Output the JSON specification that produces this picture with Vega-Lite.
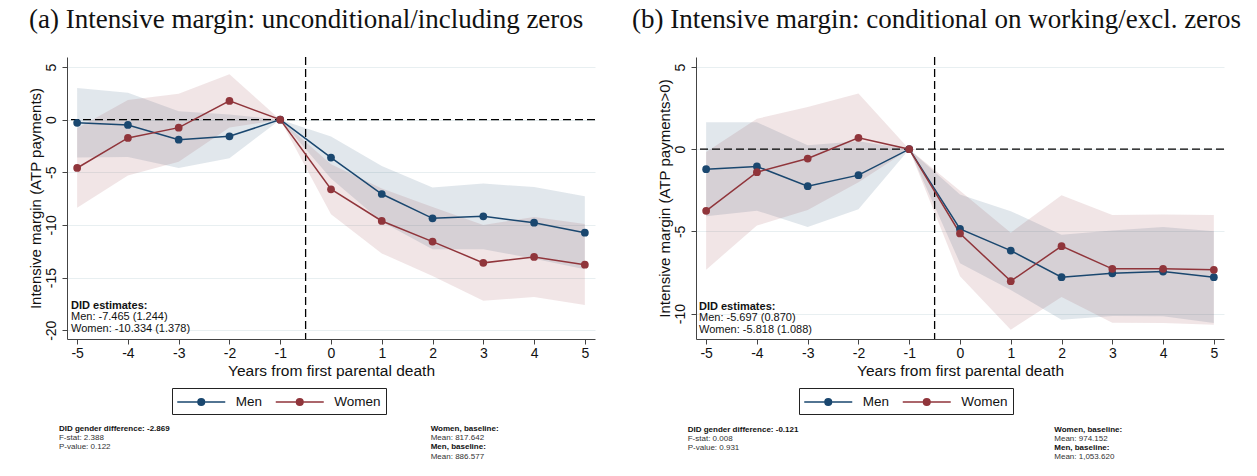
{
  "$schema": "https://vega.github.io/schema/vega-lite/v6.json",
  "autosize": {"type": "pad"},
  "padding": {"left": 27, "top": 6, "right": 0, "bottom": 0},
  "background": "white",
  "config": {
    "view": {"stroke": null},
    "font": "Liberation Sans"
  },
  "datasets": {
    "est": [
      {"panel": "a", "sex": "Men", "t": -5, "b": -0.30, "lo": -3.60, "hi": 3.00},
      {"panel": "a", "sex": "Men", "t": -4, "b": -0.50, "lo": -3.55, "hi": 2.55},
      {"panel": "a", "sex": "Men", "t": -3, "b": -1.90, "lo": -4.60, "hi": 0.80},
      {"panel": "a", "sex": "Men", "t": -2, "b": -1.58, "lo": -3.67, "hi": 0.50},
      {"panel": "a", "sex": "Men", "t": -1, "b": 0, "lo": 0, "hi": 0},
      {"panel": "a", "sex": "Men", "t": 0, "b": -3.60, "lo": -5.60, "hi": -1.60},
      {"panel": "a", "sex": "Men", "t": 1, "b": -7.06, "lo": -9.70, "hi": -4.40},
      {"panel": "a", "sex": "Men", "t": 2, "b": -9.37, "lo": -12.30, "hi": -6.45},
      {"panel": "a", "sex": "Men", "t": 3, "b": -9.18, "lo": -12.30, "hi": -6.07},
      {"panel": "a", "sex": "Men", "t": 4, "b": -9.78, "lo": -13.20, "hi": -6.40},
      {"panel": "a", "sex": "Men", "t": 5, "b": -10.73, "lo": -14.20, "hi": -7.28},
      {"panel": "a", "sex": "Women", "t": -5, "b": -4.59, "lo": -8.36, "hi": -0.82},
      {"panel": "a", "sex": "Women", "t": -4, "b": -1.74, "lo": -5.30, "hi": 1.86},
      {"panel": "a", "sex": "Women", "t": -3, "b": -0.76, "lo": -4.00, "hi": 2.47},
      {"panel": "a", "sex": "Women", "t": -2, "b": 1.78, "lo": -0.75, "hi": 4.31},
      {"panel": "a", "sex": "Women", "t": -1, "b": 0, "lo": 0, "hi": 0},
      {"panel": "a", "sex": "Women", "t": 0, "b": -6.61, "lo": -8.99, "hi": -4.23},
      {"panel": "a", "sex": "Women", "t": 1, "b": -9.62, "lo": -12.70, "hi": -6.54},
      {"panel": "a", "sex": "Women", "t": 2, "b": -11.58, "lo": -14.84, "hi": -8.30},
      {"panel": "a", "sex": "Women", "t": 3, "b": -13.60, "lo": -17.20, "hi": -10.00},
      {"panel": "a", "sex": "Women", "t": 4, "b": -13.04, "lo": -16.84, "hi": -9.24},
      {"panel": "a", "sex": "Women", "t": 5, "b": -13.77, "lo": -17.60, "hi": -9.90},
      {"panel": "b", "sex": "Men", "t": -5, "b": -1.22, "lo": -4.08, "hi": 1.64},
      {"panel": "b", "sex": "Men", "t": -4, "b": -1.05, "lo": -3.74, "hi": 1.64},
      {"panel": "b", "sex": "Men", "t": -3, "b": -2.25, "lo": -4.74, "hi": 0.24},
      {"panel": "b", "sex": "Men", "t": -2, "b": -1.58, "lo": -3.65, "hi": 0.49},
      {"panel": "b", "sex": "Men", "t": -1, "b": 0, "lo": 0, "hi": 0},
      {"panel": "b", "sex": "Men", "t": 0, "b": -4.85, "lo": -6.94, "hi": -2.76},
      {"panel": "b", "sex": "Men", "t": 1, "b": -6.17, "lo": -8.57, "hi": -3.77},
      {"panel": "b", "sex": "Men", "t": 2, "b": -7.79, "lo": -10.38, "hi": -5.20},
      {"panel": "b", "sex": "Men", "t": 3, "b": -7.55, "lo": -10.15, "hi": -4.95},
      {"panel": "b", "sex": "Men", "t": 4, "b": -7.45, "lo": -10.17, "hi": -4.73},
      {"panel": "b", "sex": "Men", "t": 5, "b": -7.79, "lo": -10.58, "hi": -5.00},
      {"panel": "b", "sex": "Women", "t": -5, "b": -3.75, "lo": -7.33, "hi": -0.17},
      {"panel": "b", "sex": "Women", "t": -4, "b": -1.40, "lo": -4.65, "hi": 1.85},
      {"panel": "b", "sex": "Women", "t": -3, "b": -0.57, "lo": -3.70, "hi": 2.56},
      {"panel": "b", "sex": "Women", "t": -2, "b": 0.69, "lo": -2.01, "hi": 3.39},
      {"panel": "b", "sex": "Women", "t": -1, "b": 0, "lo": 0, "hi": 0},
      {"panel": "b", "sex": "Women", "t": 0, "b": -5.13, "lo": -7.73, "hi": -2.53},
      {"panel": "b", "sex": "Women", "t": 1, "b": -8.03, "lo": -10.98, "hi": -5.08},
      {"panel": "b", "sex": "Women", "t": 2, "b": -5.90, "lo": -9.00, "hi": -2.80},
      {"panel": "b", "sex": "Women", "t": 3, "b": -7.28, "lo": -10.56, "hi": -4.00},
      {"panel": "b", "sex": "Women", "t": 4, "b": -7.28, "lo": -10.58, "hi": -3.98},
      {"panel": "b", "sex": "Women", "t": 5, "b": -7.34, "lo": -10.68, "hi": -4.00}
    ],
    "notes": [
      {"panel": "a", "block": "did", "line": 0, "text": ["DID estimates:"]},
      {"panel": "a", "block": "did", "line": 1, "text": ["Men: -7.465 (1.244)", "Women: -10.334 (1.378)"]},
      {"panel": "a", "block": "diff", "line": 0, "text": ["DID gender difference: -2.869"]},
      {"panel": "a", "block": "diff", "line": 1, "text": ["F-stat: 2.388", "P-value: 0.122"]},
      {"panel": "a", "block": "base", "line": 0, "text": ["Women, baseline:"]},
      {"panel": "a", "block": "base", "line": 1, "text": ["Mean: 817.642"]},
      {"panel": "a", "block": "base", "line": 2, "text": ["Men, baseline:"]},
      {"panel": "a", "block": "base", "line": 3, "text": ["Mean: 886.577"]},
      {"panel": "b", "block": "did", "line": 0, "text": ["DID estimates:"]},
      {"panel": "b", "block": "did", "line": 1, "text": ["Men: -5.697 (0.870)", "Women: -5.818 (1.088)"]},
      {"panel": "b", "block": "diff", "line": 0, "text": ["DID gender difference: -0.121"]},
      {"panel": "b", "block": "diff", "line": 1, "text": ["F-stat: 0.008", "P-value: 0.931"]},
      {"panel": "b", "block": "base", "line": 0, "text": ["Women, baseline:"]},
      {"panel": "b", "block": "base", "line": 1, "text": ["Mean: 974.152"]},
      {"panel": "b", "block": "base", "line": 2, "text": ["Men, baseline:"]},
      {"panel": "b", "block": "base", "line": 3, "text": ["Mean: 1,053.620"]}
    ]
  },
  "hconcat": [
    {
      "width": 528,
      "height": 282,
      "title": {
        "text": "(a) Intensive margin: unconditional/including zeros",
        "anchor": "start", "frame": "group", "dx": -38, "offset": 1,
        "baseline": "alphabetic",
        "font": "Liberation Serif", "fontSize": 27, "fontWeight": "normal", "color": "#111"
      },
      "layer": [
        {
          "data": {"name": "est"},
          "transform": [{"filter": "datum.panel === 'a'"}],
          "mark": {"type": "area", "opacity": 0.13},
          "encoding": {
            "x": {
              "field": "t", "type": "quantitative",
              "scale": {"domain": [-5.2, 5.2], "nice": false, "zero": false},
              "axis": {
                "values": [-5, -4, -3, -2, -1, 0, 1, 2, 3, 4, 5],
                "labelExpr": "'' + datum.value",
                "title": "Years from first parental death",
                "grid": false, "tickSize": 5, "labelPadding": 2, "titlePadding": 3,
                "labelFontSize": 14, "titleFontSize": 15.5, "titleFontWeight": "normal",
                "labelColor": "#111", "titleColor": "#111",
                "domainColor": "#444", "tickColor": "#444"
              }
            },
            "y": {
              "field": "lo", "type": "quantitative",
              "scale": {"domain": [-20.83, 5.95], "nice": false, "zero": false},
              "axis": {
                "values": [-20, -15, -10, -5, 0, 5],
                "labelExpr": "'' + datum.value",
                "labelAngle": 270, "labelAlign": "center", "labelBaseline": "bottom",
                "title": "Intensive margin (ATP payments)",
                "grid": true, "gridColor": "#e8eff1", "gridWidth": 1,
                "tickSize": 5, "labelPadding": 4, "titlePadding": 1,
                "labelFontSize": 14, "titleFontSize": 15, "titleFontWeight": "normal",
                "labelColor": "#111", "titleColor": "#111",
                "domainColor": "#444", "tickColor": "#444"
              }
            },
            "y2": {"field": "hi"},
            "fill": {
              "field": "sex", "type": "nominal",
              "scale": {"range": ["#1a476f", "#90353b"]},
              "legend": null
            }
          }
        },
        {
          "data": {"values": [{}]},
          "mark": {"type": "rule", "color": "#000", "strokeWidth": 1.3, "strokeDash": [8, 4]},
          "encoding": {"y": {"datum": 0}}
        },
        {
          "data": {"values": [{}]},
          "mark": {"type": "rule", "color": "#000", "strokeWidth": 1.3, "strokeDash": [8, 4]},
          "encoding": {"x": {"datum": -0.5}}
        },
        {
          "data": {"name": "est"},
          "transform": [{"filter": "datum.panel === 'a'"}],
          "mark": {"type": "line", "strokeWidth": 1.5},
          "encoding": {
            "x": {"field": "t", "type": "quantitative"},
            "y": {"field": "b", "type": "quantitative"},
            "color": {
              "field": "sex", "type": "nominal",
              "scale": {"domain": ["Men", "Women"], "range": ["#1a476f", "#90353b"]},
              "legend": {
                "orient": "none", "legendX": 105, "legendY": 331, "direction": "horizontal",
                "gridAlign": "none",
                "title": null, "strokeColor": "#222", "fillColor": "white", "padding": 5,
                "labelFontSize": 13.5, "labelColor": "#111",
                "symbolType": "M-3,0L3,0M-0.4125,0A0.4125,0.4125,0,1,0,0.4125,0A0.4125,0.4125,0,1,0,-0.4125,0ZM-0.225,0A0.225,0.225,0,1,0,0.225,0A0.225,0.225,0,1,0,-0.225,0ZM-0.06,0A0.06,0.06,0,1,0,0.06,0A0.06,0.06,0,1,0,-0.06,0Z",
                "symbolSize": 256, "symbolStrokeWidth": 1.5, "symbolOffset": 15.25,
                "labelOffset": 25.5, "columnPadding": 9.5
              }
            }
          }
        },
        {
          "data": {"name": "est"},
          "transform": [{"filter": "datum.panel === 'a'"}],
          "mark": {"type": "point", "filled": true, "size": 60, "opacity": 1},
          "encoding": {
            "x": {"field": "t", "type": "quantitative"},
            "y": {"field": "b", "type": "quantitative"},
            "color": {"field": "sex", "type": "nominal"}
          }
        },
        {
          "data": {"name": "notes"},
          "transform": [{"filter": "datum.panel === 'a' && datum.block === 'did' && datum.line === 0"}],
          "mark": {"type": "text", "align": "left", "baseline": "alphabetic", "fontSize": 11, "lineHeight": 11.5, "fontWeight": "bold", "color": "#111", "clip": false},
          "encoding": {"x": {"datum": -5.121}, "y": {"datum": -17.95}, "text": {"field": "text"}}
        },
        {
          "data": {"name": "notes"},
          "transform": [{"filter": "datum.panel === 'a' && datum.block === 'did' && datum.line === 1"}],
          "mark": {"type": "text", "align": "left", "baseline": "alphabetic", "fontSize": 11, "lineHeight": 11.5, "color": "#111", "clip": false},
          "encoding": {"x": {"datum": -5.121}, "y": {"datum": -19.042}, "text": {"field": "text"}}
        },
        {
          "data": {"name": "notes"},
          "transform": [{"filter": "datum.panel === 'a' && datum.block === 'diff' && datum.line === 0"}],
          "mark": {"type": "text", "align": "left", "baseline": "alphabetic", "fontSize": 8, "fontWeight": "bold", "color": "#111", "clip": false},
          "encoding": {"x": {"datum": -5.358}, "y": {"datum": -29.59}, "text": {"field": "text"}}
        },
        {
          "data": {"name": "notes"},
          "transform": [{"filter": "datum.panel === 'a' && datum.block === 'diff' && datum.line === 1"}],
          "mark": {"type": "text", "align": "left", "baseline": "alphabetic", "fontSize": 8, "lineHeight": 9.1, "color": "#333", "clip": false},
          "encoding": {"x": {"datum": -5.358}, "y": {"datum": -30.454}, "text": {"field": "text"}}
        },
        {
          "data": {"name": "notes"},
          "transform": [{"filter": "datum.panel === 'a' && datum.block === 'base' && datum.line === 0"}],
          "mark": {"type": "text", "align": "left", "baseline": "alphabetic", "fontSize": 8, "fontWeight": "bold", "color": "#111", "clip": false},
          "encoding": {"x": {"datum": 1.964}, "y": {"datum": -29.59}, "text": {"field": "text"}}
        },
        {
          "data": {"name": "notes"},
          "transform": [{"filter": "datum.panel === 'a' && datum.block === 'base' && datum.line === 1"}],
          "mark": {"type": "text", "align": "left", "baseline": "alphabetic", "fontSize": 8, "color": "#333", "clip": false},
          "encoding": {"x": {"datum": 1.964}, "y": {"datum": -30.454}, "text": {"field": "text"}}
        },
        {
          "data": {"name": "notes"},
          "transform": [{"filter": "datum.panel === 'a' && datum.block === 'base' && datum.line === 2"}],
          "mark": {"type": "text", "align": "left", "baseline": "alphabetic", "fontSize": 8, "fontWeight": "bold", "color": "#111", "clip": false},
          "encoding": {"x": {"datum": 1.964}, "y": {"datum": -31.318}, "text": {"field": "text"}}
        },
        {
          "data": {"name": "notes"},
          "transform": [{"filter": "datum.panel === 'a' && datum.block === 'base' && datum.line === 3"}],
          "mark": {"type": "text", "align": "left", "baseline": "alphabetic", "fontSize": 8, "color": "#333", "clip": false},
          "encoding": {"x": {"datum": 1.964}, "y": {"datum": -32.182}, "text": {"field": "text"}}
        }
      ]
    },
    {
      "width": 528,
      "height": 282,
      "title": {
        "text": "(b) Intensive margin: conditional on working/excl. zeros",
        "anchor": "start", "frame": "group", "dx": -64, "offset": 1,
        "baseline": "alphabetic",
        "font": "Liberation Serif", "fontSize": 27, "fontWeight": "normal", "color": "#111"
      },
      "layer": [
        {
          "data": {"name": "est"},
          "transform": [{"filter": "datum.panel === 'b'"}],
          "mark": {"type": "area", "opacity": 0.13},
          "encoding": {
            "x": {
              "field": "t", "type": "quantitative",
              "scale": {"domain": [-5.2, 5.2], "nice": false, "zero": false},
              "axis": {
                "values": [-5, -4, -3, -2, -1, 0, 1, 2, 3, 4, 5],
                "labelExpr": "'' + datum.value",
                "title": "Years from first parental death",
                "grid": false, "tickSize": 5, "labelPadding": 2, "titlePadding": 3,
                "labelFontSize": 14, "titleFontSize": 15.5, "titleFontWeight": "normal",
                "labelColor": "#111", "titleColor": "#111",
                "domainColor": "#444", "tickColor": "#444"
              }
            },
            "y": {
              "field": "lo", "type": "quantitative",
              "scale": {"domain": [-11.55, 5.61], "nice": false, "zero": false},
              "axis": {
                "values": [-10, -5, 0, 5],
                "labelExpr": "'' + datum.value",
                "labelAngle": 270, "labelAlign": "center", "labelBaseline": "bottom",
                "title": "Intensive margin (ATP payments>0)",
                "grid": true, "gridColor": "#e8eff1", "gridWidth": 1,
                "tickSize": 5, "labelPadding": 4, "titlePadding": 1,
                "labelFontSize": 14, "titleFontSize": 15, "titleFontWeight": "normal",
                "labelColor": "#111", "titleColor": "#111",
                "domainColor": "#444", "tickColor": "#444"
              }
            },
            "y2": {"field": "hi"},
            "fill": {
              "field": "sex", "type": "nominal",
              "scale": {"range": ["#1a476f", "#90353b"]},
              "legend": null
            }
          }
        },
        {
          "data": {"values": [{}]},
          "mark": {"type": "rule", "color": "#000", "strokeWidth": 1.3, "strokeDash": [8, 4]},
          "encoding": {"y": {"datum": 0}}
        },
        {
          "data": {"values": [{}]},
          "mark": {"type": "rule", "color": "#000", "strokeWidth": 1.3, "strokeDash": [8, 4]},
          "encoding": {"x": {"datum": -0.5}}
        },
        {
          "data": {"name": "est"},
          "transform": [{"filter": "datum.panel === 'b'"}],
          "mark": {"type": "line", "strokeWidth": 1.5},
          "encoding": {
            "x": {"field": "t", "type": "quantitative"},
            "y": {"field": "b", "type": "quantitative"},
            "color": {
              "field": "sex", "type": "nominal",
              "scale": {"domain": ["Men", "Women"], "range": ["#1a476f", "#90353b"]},
              "legend": {
                "orient": "none", "legendX": 103, "legendY": 331, "direction": "horizontal",
                "gridAlign": "none",
                "title": null, "strokeColor": "#222", "fillColor": "white", "padding": 5,
                "labelFontSize": 13.5, "labelColor": "#111",
                "symbolType": "M-3,0L3,0M-0.4125,0A0.4125,0.4125,0,1,0,0.4125,0A0.4125,0.4125,0,1,0,-0.4125,0ZM-0.225,0A0.225,0.225,0,1,0,0.225,0A0.225,0.225,0,1,0,-0.225,0ZM-0.06,0A0.06,0.06,0,1,0,0.06,0A0.06,0.06,0,1,0,-0.06,0Z",
                "symbolSize": 256, "symbolStrokeWidth": 1.5, "symbolOffset": 15.25,
                "labelOffset": 25.5, "columnPadding": 9.5
              }
            }
          }
        },
        {
          "data": {"name": "est"},
          "transform": [{"filter": "datum.panel === 'b'"}],
          "mark": {"type": "point", "filled": true, "size": 60, "opacity": 1},
          "encoding": {
            "x": {"field": "t", "type": "quantitative"},
            "y": {"field": "b", "type": "quantitative"},
            "color": {"field": "sex", "type": "nominal"}
          }
        },
        {
          "data": {"name": "notes"},
          "transform": [{"filter": "datum.panel === 'b' && datum.block === 'did' && datum.line === 0"}],
          "mark": {"type": "text", "align": "left", "baseline": "alphabetic", "fontSize": 11, "lineHeight": 11.8, "fontWeight": "bold", "color": "#111", "clip": false},
          "encoding": {"x": {"datum": -5.141}, "y": {"datum": -9.757}, "text": {"field": "text"}}
        },
        {
          "data": {"name": "notes"},
          "transform": [{"filter": "datum.panel === 'b' && datum.block === 'did' && datum.line === 1"}],
          "mark": {"type": "text", "align": "left", "baseline": "alphabetic", "fontSize": 11, "lineHeight": 11.8, "color": "#111", "clip": false},
          "encoding": {"x": {"datum": -5.141}, "y": {"datum": -10.475}, "text": {"field": "text"}}
        },
        {
          "data": {"name": "notes"},
          "transform": [{"filter": "datum.panel === 'b' && datum.block === 'diff' && datum.line === 0"}],
          "mark": {"type": "text", "align": "left", "baseline": "alphabetic", "fontSize": 8, "fontWeight": "bold", "color": "#111", "clip": false},
          "encoding": {"x": {"datum": -5.363}, "y": {"datum": -17.18}, "text": {"field": "text"}}
        },
        {
          "data": {"name": "notes"},
          "transform": [{"filter": "datum.panel === 'b' && datum.block === 'diff' && datum.line === 1"}],
          "mark": {"type": "text", "align": "left", "baseline": "alphabetic", "fontSize": 8, "lineHeight": 9.1, "color": "#333", "clip": false},
          "encoding": {"x": {"datum": -5.363}, "y": {"datum": -17.734}, "text": {"field": "text"}}
        },
        {
          "data": {"name": "notes"},
          "transform": [{"filter": "datum.panel === 'b' && datum.block === 'base' && datum.line === 0"}],
          "mark": {"type": "text", "align": "left", "baseline": "alphabetic", "fontSize": 8, "fontWeight": "bold", "color": "#111", "clip": false},
          "encoding": {"x": {"datum": 1.857}, "y": {"datum": -17.18}, "text": {"field": "text"}}
        },
        {
          "data": {"name": "notes"},
          "transform": [{"filter": "datum.panel === 'b' && datum.block === 'base' && datum.line === 1"}],
          "mark": {"type": "text", "align": "left", "baseline": "alphabetic", "fontSize": 8, "color": "#333", "clip": false},
          "encoding": {"x": {"datum": 1.857}, "y": {"datum": -17.734}, "text": {"field": "text"}}
        },
        {
          "data": {"name": "notes"},
          "transform": [{"filter": "datum.panel === 'b' && datum.block === 'base' && datum.line === 2"}],
          "mark": {"type": "text", "align": "left", "baseline": "alphabetic", "fontSize": 8, "fontWeight": "bold", "color": "#111", "clip": false},
          "encoding": {"x": {"datum": 1.857}, "y": {"datum": -18.288}, "text": {"field": "text"}}
        },
        {
          "data": {"name": "notes"},
          "transform": [{"filter": "datum.panel === 'b' && datum.block === 'base' && datum.line === 3"}],
          "mark": {"type": "text", "align": "left", "baseline": "alphabetic", "fontSize": 8, "color": "#333", "clip": false},
          "encoding": {"x": {"datum": 1.857}, "y": {"datum": -18.842}, "text": {"field": "text"}}
        }
      ]
    }
  ],
  "spacing": 36,
  "resolve": {
    "scale": {"x": "independent", "y": "independent", "color": "independent", "fill": "independent"},
    "legend": {"color": "independent", "fill": "independent"}
  }
}
